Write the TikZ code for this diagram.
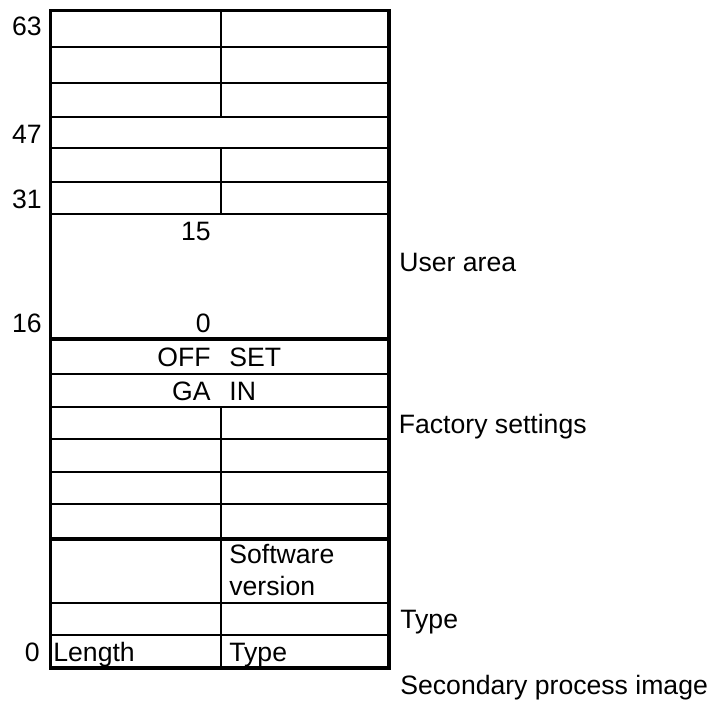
\documentclass[tikz,border=0pt]{standalone}
\usepackage{fontspec}
\setmainfont{Liberation Sans}
\usepackage{tikz}

\tikzset{
  lbl/.style={inner sep=0pt, font=\fontsize{13.3}{16}\selectfont},
  thinrule/.style={line width=1pt},
  thickrule/.style={line width=1.75pt},
}

\begin{document}
\begin{tikzpicture}[x=0.5pt,y=-0.5pt]
\useasboundingbox (0,0) rectangle (714,702);

% rows
\foreach \y in {46.7,83.3,116.7,148.3,181.7,214.3,374,406.7,439,471.7,504.3,603.3,635}{
	\draw[thinrule] (50.5,\y) -- (389,\y);
	}
\draw[thickrule] (50.5,339) -- (389,339);
\draw[thickrule] (50.5,539) -- (389,539);

% column divider
\draw[thinrule] (221,10.5) -- (221,116.7);
\draw[thinrule] (221,148.3) -- (221,214.3);
\draw[thinrule] (221,406.7) -- (221,668);

\draw[thickrule] (50.5,10.5) rectangle (389,668);

% bit numbers
\node[lbl,anchor=base east] (b63) at (42,35) {63};
\node[lbl,anchor=base east] (b47) at (42,143.3) {47};
\node[lbl,anchor=base east] (b31) at (42,208.3) {31};
\node[lbl,anchor=base east] (b16) at (42,332.3) {16};
\node[lbl,anchor=base east] (b0) at (40,661) {0};

% cell texts
\node[lbl,anchor=base east] (u15) at (211,240.7) {15};
\node[lbl,anchor=base east] (u0) at (211,332.3) {0};
\node[lbl,anchor=base east] (off) at (211,366.7) {OFF};
\node[lbl,anchor=base west] (set) at (229,366.7) {SET};
\node[lbl,anchor=base east] (ga) at (211,400) {GA};
\node[lbl,anchor=base west] (in) at (229,400) {IN};
\node[lbl,anchor=base west,align=left] (soft) at (229,595) {Software\\version};
\node[lbl,anchor=base west] (len) at (53,661) {Length};
\node[lbl,anchor=base west] (typ) at (229,661) {Type};

% areas
\node[lbl,anchor=base west] (user) at (399,271.7) {User area};
\node[lbl,anchor=base west] (fact) at (398.5,433.3) {Factory settings};
\node[lbl,anchor=base west] (type) at (400,628.3) {Type};
\node[lbl,anchor=base west] (sec) at (400,694) {Secondary process image};
\end{tikzpicture}
\end{document}
